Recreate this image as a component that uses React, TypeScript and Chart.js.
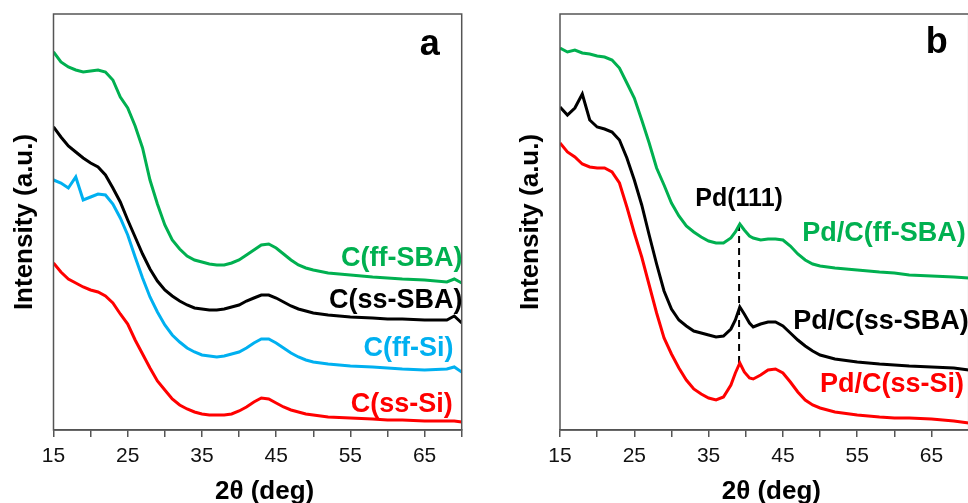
import React, { useEffect, useRef } from "react";
import { Chart, registerables } from "chart.js";
Chart.register(...registerables);

// ---------- data: panel a ----------
const xA = [15,16,17,18,19,20,21,22,23,24,25,26,27,28,29,30,31,32,33,34,35,36,37,38,39,40,41,42,43,44,45,46,47,48,49,50,52,55,58,60,62,65,68,69,70];
const cFfSba = [378,368,363,360,358,359,360,358,350,333,322,304,282,250,226,205,190,181,174,170,168,166,165,165,167,170,175,180,185,186,182,176,170,165,162,160,157,155,153,152,151,150,148,151,147];
const cSsSba = [303,293,284,278,272,267,263,255,242,228,210,193,176,161,149,140,134,129,125,122,121,120,120,121,123,125,129,132,135,135,132,128,124,121,119,117,115,113,112,111,111,110,110,114,107];
const cFfSi = [250,247,242,253,230,233,236,235,226,212,195,173,152,133,118,105,95,88,82,78,75,74,73,74,76,78,82,87,91,91,87,82,77,73,70,68,66,64,63,62,61,60,61,63,58];
const cSsSi = [167,158,151,147,143,140,138,134,127,116,106,90,76,62,49,40,31,25,21,18,16,15,15,15,16,19,23,28,32,31,27,23,20,18,16,15,13,12,11,10,10,9,9,9,8];

// ---------- data: panel b ----------
const xB = [15,16,17,18,19,20,21,22,23,24,25,26,27,28,29,30,31,32,33,34,35,36,37,38,38.6,39.2,39.8,40.5,41,42,43,44,45,46,47,48,49,50,52,55,58,60,62,65,68,70];
const pdFfSba = [382,378,380,377,376,374,373,370,362,347,332,310,287,262,245,227,214,204,198,193,189,187,187,192,198,206,200,194,192,190,191,191,190,184,176,170,166,164,162,160,158,157,155,154,153,152];
const pdSsSba = [323,315,322,336,310,303,301,298,290,272,250,225,195,166,139,121,110,104,99,97,95,93,94,101,110,123,116,107,103,106,108,108,104,97,90,84,79,75,71,68,66,65,64,63,62,60];
const pdSsSi = [287,278,273,266,263,262,262,258,247,223,197,173,145,117,92,76,62,50,41,36,32,30,33,45,57,67,58,52,51,55,60,61,57,48,38,30,25,22,18,15,13,12,12,11,9,7];

// Pd(111) reference line
const pd111X = [39.1, 39.1];
const pd111Y = [67, 210];

// tick settings
const xMin = 15;
const xMax = 70;
const xStep = 5;
const yMin = 0;
const yMax = 416;

const namesA = ["C(ff-SBA)", "C(ss-SBA)", "C(ff-Si)", "C(ss-Si)"];
const namesB = ["Pd/C(ff-SBA)", "Pd/C(ss-SBA)", "Pd/C(ss-Si)"];

const GREEN = "#00B050";
const BLACK = "#000000";
const BLUE = "#00B0F0";
const RED = "#FF0000";
const FRAME = "#555555";
const FONT = "'Liberation Sans', Arial, sans-serif";

type Note = { text: string; x: number; y: number; color: string; align: CanvasTextAlign; size: number; baseline: CanvasTextBaseline };

function decoPlugin(notes: Note[]) {
  return {
    id: "deco",
    afterDraw(chart: any) {
      const { ctx, chartArea: ca, scales } = chart;
      const sx = scales.x;
      const sy = scales.y;
      ctx.save();
      // frame
      ctx.strokeStyle = FRAME;
      ctx.lineWidth = 1.5;
      ctx.strokeRect(ca.left, ca.top, ca.right - ca.left, ca.bottom - ca.top);
      // notes
      for (const n of notes) {
        ctx.font = `bold ${n.size}px ${FONT}`;
        ctx.fillStyle = n.color;
        ctx.textAlign = n.align;
        ctx.textBaseline = n.baseline;
        ctx.fillText(n.text, sx.getPixelForValue(n.x), sy.getPixelForValue(n.y));
      }
      // axis titles
      ctx.fillStyle = "#000";
      ctx.font = `bold 26px ${FONT}`;
      ctx.textAlign = "center";
      ctx.textBaseline = "alphabetic";
      ctx.fillText("2\u03B8 (deg)", (ca.left + ca.right) / 2 + 7, ca.bottom + 69);
      ctx.translate(ca.left - 29, (ca.top + ca.bottom) / 2);
      ctx.rotate(-Math.PI / 2);
      ctx.textBaseline = "middle";
      ctx.fillText("Intensity (a.u.)", 0, 0);
      ctx.restore();
    },
  };
}

function buildChart(
  canvas: HTMLCanvasElement,
  x: number[],
  series: number[][],
  colors: string[],
  notes: Note[],
  padLeft: number,
  padRight: number,
  extra: any[]
) {
  const datasets: any[] = series.map((s, i) => ({
    data: x.map((xv, j) => ({ x: xv, y: s[j] })),
    borderColor: colors[i],
    borderWidth: 3,
    pointRadius: 0,
    tension: 0,
    fill: false,
  }));
  for (const e of extra) datasets.push(e);
  return new Chart(canvas, {
    type: "line",
    data: { datasets },
    plugins: [decoPlugin(notes)],
    options: {
      animation: false,
      responsive: false,
      devicePixelRatio: 1,
      layout: { padding: { left: padLeft, right: padRight, top: 14, bottom: 0 } },
      plugins: { legend: { display: false }, tooltip: { enabled: false } },
      scales: {
        x: {
          type: "linear",
          min: xMin,
          max: xMax,
          afterFit: (s: any) => {
            s.height = 73;
          },
          ticks: {
            stepSize: xStep,
            autoSkip: false,
            maxRotation: 0,
            padding: 7,
            color: "#111",
            font: { size: 21, family: FONT },
            callback: (v: any) => ((Number(v) - xMin) % 10 === 0 && Number(v) < xMax ? String(v) : ""),
          },
          grid: {
            drawOnChartArea: false,
            drawTicks: true,
            tickLength: 7,
            color: FRAME,
            lineWidth: 1.5,
          },
          border: { display: true, color: FRAME, width: 1.5 },
        },
        y: {
          type: "linear",
          min: yMin,
          max: yMax,
          display: false,
        },
      },
    },
  });
}

function Panel(props: { left: number; width: number; which: "a" | "b" }) {
  const ref = useRef<HTMLCanvasElement | null>(null);
  useEffect(() => {
    if (!ref.current) return;
    let chart: Chart;
    if (props.which === "a") {
      const notes: Note[] = [
        { text: namesA[0], x: 70.1, y: 171, color: GREEN, align: "right", size: 27, baseline: "middle" },
        { text: namesA[1], x: 70.1, y: 129, color: BLACK, align: "right", size: 27, baseline: "middle" },
        { text: namesA[2], x: 68.9, y: 81, color: BLUE, align: "right", size: 27, baseline: "middle" },
        { text: namesA[3], x: 68.8, y: 25, color: RED, align: "right", size: 27, baseline: "middle" },
        { text: "a", x: 65.7, y: 375, color: BLACK, align: "center", size: 36, baseline: "alphabetic" },
      ];
      chart = buildChart(ref.current, xA, [cFfSba, cSsSba, cFfSi, cSsSi], [GREEN, BLACK, BLUE, RED], notes, 53.5, 18.3, []);
    } else {
      const notes: Note[] = [
        { text: "Pd(111)", x: 39.1, y: 231, color: BLACK, align: "center", size: 25, baseline: "middle" },
        { text: namesB[0], x: 47.6, y: 196, color: GREEN, align: "left", size: 27, baseline: "middle" },
        { text: namesB[1], x: 46.4, y: 108, color: BLACK, align: "left", size: 27, baseline: "middle" },
        { text: namesB[2], x: 50.0, y: 45, color: RED, align: "left", size: 27, baseline: "middle" },
        { text: "b", x: 65.7, y: 377, color: BLACK, align: "center", size: 36, baseline: "alphabetic" },
      ];
      const dash = {
        data: pd111X.map((xv, i) => ({ x: xv, y: pd111Y[i] })),
        borderColor: BLACK,
        borderWidth: 2,
        borderDash: [7, 5],
        pointRadius: 0,
        fill: false,
      };
      chart = buildChart(ref.current, xB, [pdFfSba, pdSsSba, pdSsSi], [GREEN, BLACK, RED], notes, 70, 11.3, [dash]);
    }
    return () => chart.destroy();
  }, [props.which]);
  return (
    <canvas
      ref={ref}
      width={props.width}
      height={503}
      style={{ position: "absolute", left: props.left, top: 0, width: props.width, height: 503 }}
    />
  );
}

export default function App() {
  return (
    <div
      style={{
        position: "fixed",
        left: 0,
        top: 0,
        width: 968,
        height: 503,
        overflow: "hidden",
        background: "#fff",
      }}
    >
      <Panel left={0} width={480} which="a" />
      <Panel left={490} width={490} which="b" />
    </div>
  );
}
